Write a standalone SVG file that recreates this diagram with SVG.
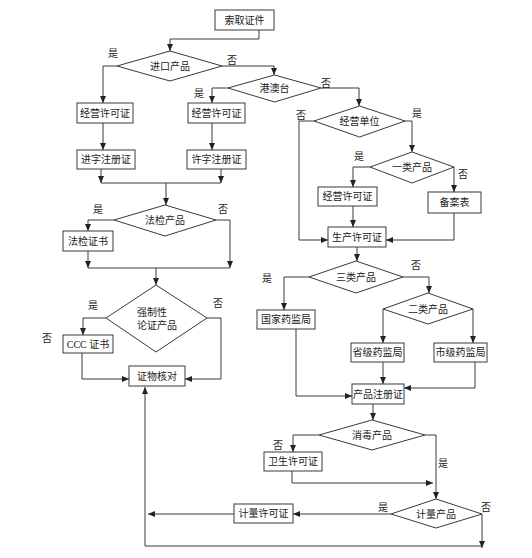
<svg xmlns="http://www.w3.org/2000/svg" width="532" height="558" viewBox="0 0 532 558">
<style>
.box{fill:#fff;stroke:#3a3a3a;stroke-width:1}
.dia{fill:#fff;stroke:#3a3a3a;stroke-width:1}
.t{font-family:"Liberation Serif","Noto Sans CJK SC",serif;font-size:10px;fill:#222;text-anchor:middle;dominant-baseline:central}
.lb{font-family:"Liberation Serif","Noto Sans CJK SC",serif;font-size:10px;fill:#222;text-anchor:middle;dominant-baseline:central}
.c{fill:none;stroke:#3a3a3a;stroke-width:1}
.a{marker-end:url(#ar)}
</style>
<defs>
<marker id="ar" markerUnits="userSpaceOnUse" markerWidth="8" markerHeight="6" refX="7" refY="3" orient="auto">
<path d="M0,0 L7,3 L0,6 z" fill="#222"/>
</marker>
</defs>
<rect width="532" height="558" fill="#fff"/>
<g id="connectors">
<path class="c a" d="M259,30 V39 H170 V51"/>
<path class="c a" d="M117,66 H103 V103"/>
<path class="c a" d="M222,66 H274 V75"/>
<path class="c a" d="M228,88 H212 V103"/>
<path class="c a" d="M321,88 H359 V106"/>
<path class="c a" d="M314,121 H299 V240 H328"/>
<path class="c a" d="M405,121 H412 V152"/>
<path class="c a" d="M370,167 H353 V187"/>
<path class="c a" d="M454,167 V192"/>
<path class="c a" d="M454,213 V240 H386"/>
<path class="c a" d="M353,206 V227"/>
<path class="c a" d="M357,247 V261"/>
<path class="c a" d="M309,277 H284 V310"/>
<path class="c a" d="M403,277 H429 V293"/>
<path class="c a" d="M383,309 V343"/>
<path class="c a" d="M473,309 V343"/>
<path class="c a" d="M383,362 V384"/>
<path class="c a" d="M475,362 V388 H404"/>
<path class="c a" d="M296,329 V396 H352"/>
<path class="c a" d="M373,404 V420"/>
<path class="c a" d="M319,435 H293 V452"/>
<path class="c a" d="M292,471 V483 H433"/>
<path class="c a" d="M425,435 H436 V499"/>
<path class="c a" d="M391,514 H293"/>
<path class="c a" d="M234,514 H148"/>
<path class="c a" d="M482,514 V548"/>
<path class="c a" d="M482,546 H145 V387"/>
<path class="c a" d="M103,123 V150"/>
<path class="c a" d="M212,123 V150"/>
<path class="c a" d="M101,169 V183"/>
<path class="c a" d="M221,169 V183"/>
<path class="c" d="M101,183 H221"/>
<path class="c a" d="M166,183 V205"/>
<path class="c a" d="M114,220 H88 V231"/>
<path class="c a" d="M216,220 H230 V268"/>
<path class="c a" d="M88,251 V268"/>
<path class="c" d="M88,268 H230"/>
<path class="c a" d="M156,268 V285"/>
<path class="c a" d="M106,318 H83 V335"/>
<path class="c a" d="M207,318 H221 V379 H185"/>
<path class="c a" d="M82,353 V379 H129"/>
</g>
<g id="n_start"><rect class="box" x="215" y="10" width="59" height="20"/><text class="t" x="244.5" y="20">索取证件</text></g>
<g id="d_import"><polygon class="dia" points="117,66 170,51 222,66 170,81"/><text class="t" x="170" y="66">进口产品</text></g>
<g id="d_gat"><polygon class="dia" points="228,88 274.5,75 321,88 274.5,102"/><text class="t" x="274.5" y="88">港澳台</text></g>
<g id="n_jy1"><rect class="box" x="77" y="103" width="56" height="20"/><text class="t" x="105" y="113">经营许可证</text></g>
<g id="n_jy2"><rect class="box" x="188" y="103" width="57" height="20"/><text class="t" x="216.5" y="113">经营许可证</text></g>
<g id="n_jz"><rect class="box" x="77" y="150" width="58" height="19"/><text class="t" x="106" y="159.5">进字注册证</text></g>
<g id="n_xz"><rect class="box" x="187" y="150" width="59" height="19"/><text class="t" x="216.5" y="159.5">许字注册证</text></g>
<g id="d_fj"><polygon class="dia" points="114,220 165,205 216,220 165,236"/><text class="t" x="165" y="220">法检产品</text></g>
<g id="n_fjzs"><rect class="box" x="63" y="231" width="50" height="20"/><text class="t" x="88" y="241">法检证书</text></g>
<g id="d_qz"><polygon class="dia" points="106,318 156,285 207,318 156,352"/><text class="t" x="137" y="312" style="text-anchor:start">强制性</text><text class="t" x="137" y="325" style="text-anchor:start">论证产品</text></g>
<g id="n_ccc"><rect class="box" x="63" y="335" width="50" height="18"/><text class="t" x="88" y="344">CCC 证书</text></g>
<g id="n_zwhd"><rect class="box" x="129" y="366" width="56" height="20"/><text class="t" x="157" y="376">证物核对</text></g>
<g id="d_jydw"><polygon class="dia" points="314,121 359.5,106 405,121 359.5,137"/><text class="t" x="359.5" y="121">经营单位</text></g>
<g id="d_yl"><polygon class="dia" points="370,167 412,152 454,167 412,183"/><text class="t" x="412" y="167">一类产品</text></g>
<g id="n_jy3"><rect class="box" x="318" y="187" width="59" height="19"/><text class="t" x="347.5" y="196.5">经营许可证</text></g>
<g id="n_ba"><rect class="box" x="428" y="192" width="53" height="21"/><text class="t" x="454.5" y="202.5">备案表</text></g>
<g id="n_sc"><rect class="box" x="328" y="227" width="58" height="20"/><text class="t" x="357" y="237">生产许可证</text></g>
<g id="d_sl"><polygon class="dia" points="309,277 356,261 403,277 356,293"/><text class="t" x="356" y="277">三类产品</text></g>
<g id="d_el"><polygon class="dia" points="383,309 428,293 473,309 428,324"/><text class="t" x="428" y="309">二类产品</text></g>
<g id="n_gj"><rect class="box" x="257" y="310" width="58" height="19"/><text class="t" x="286" y="319.5">国家药监局</text></g>
<g id="n_sj"><rect class="box" x="351" y="343" width="53" height="19"/><text class="t" x="377.5" y="352.5">省级药监局</text></g>
<g id="n_shj"><rect class="box" x="434" y="343" width="53" height="19"/><text class="t" x="460.5" y="352.5">市级药监局</text></g>
<g id="n_cp"><rect class="box" x="352" y="384" width="52" height="20"/><text class="t" x="378" y="394">产品注册证</text></g>
<g id="d_xd"><polygon class="dia" points="319,435 372,420 425,435 372,450"/><text class="t" x="372" y="435">消毒产品</text></g>
<g id="n_ws"><rect class="box" x="264" y="452" width="58" height="19"/><text class="t" x="293" y="461.5">卫生许可证</text></g>
<g id="d_jl"><polygon class="dia" points="391,514 436,499 482,514 436,528"/><text class="t" x="436" y="514">计量产品</text></g>
<g id="n_jl"><rect class="box" x="234" y="504" width="59" height="19"/><text class="t" x="263.5" y="513.5">计量许可证</text></g>
<g id="labels">
<text class="lb" x="113" y="53">是</text>
<text class="lb" x="232" y="60">否</text>
<text class="lb" x="199" y="93">是</text>
<text class="lb" x="326" y="83">否</text>
<text class="lb" x="301" y="115">否</text>
<text class="lb" x="417" y="113">是</text>
<text class="lb" x="359" y="156">是</text>
<text class="lb" x="463" y="174">否</text>
<text class="lb" x="98" y="209">是</text>
<text class="lb" x="223" y="209">否</text>
<text class="lb" x="93" y="305">是</text>
<text class="lb" x="47" y="338">否</text>
<text class="lb" x="218" y="303">否</text>
<text class="lb" x="267" y="278">是</text>
<text class="lb" x="416" y="265">否</text>
<text class="lb" x="278" y="445">否</text>
<text class="lb" x="443" y="463">是</text>
<text class="lb" x="383" y="507">是</text>
<text class="lb" x="486" y="507">否</text>
</g>
</svg>
